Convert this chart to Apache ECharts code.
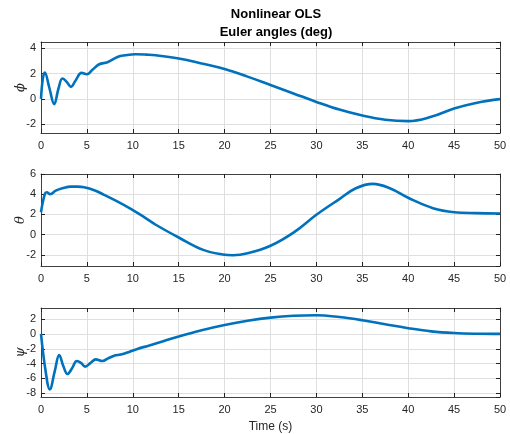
<!DOCTYPE html>
<html>
<head>
<meta charset="utf-8">
<script src="https://cdn.jsdelivr.net/npm/echarts@6/dist/echarts.min.js"></script>
<style>
  html, body { margin: 0; padding: 0; background: #fff; }
  #main { width: 510px; height: 434px; }
</style>
</head>
<body>
<div id="main"></div>
<script>
// values
var phiTime = [0, 0.2, 0.41, 0.9, 1.44, 1.9, 2.34, 2.8, 3.25, 3.8, 4.41, 5.0, 5.6, 6.34, 7.24, 8.33, 9.2, 10.3, 11.5, 12.5, 15, 17.5, 20, 22.5, 25, 27.5, 30, 32.5, 35, 37.5, 40, 42.5, 45, 47.5, 50];
var phi = [0, 1.6, 2.09, 0.9, -0.42, 0.8, 1.61, 1.35, 0.95, 1.5, 2.06, 1.95, 2.3, 2.74, 2.9, 3.32, 3.45, 3.53, 3.5, 3.45, 3.19, 2.8, 2.36, 1.76, 1.1, 0.43, -0.24, -0.85, -1.32, -1.65, -1.76, -1.42, -0.76, -0.3, -0.02];

var thetaTime = [0, 0.41, 0.63, 1.0, 1.61, 2.34, 3.25, 4.0, 4.7, 5.8, 6.88, 8.3, 9.78, 11.2, 12.5, 15.1, 17.6, 19.8, 20.9, 22.5, 25, 27.5, 30, 32.5, 34.3, 36.15, 38.0, 40.1, 42.7, 45.0, 47.4, 50];
var theta = [2.22, 4.0, 4.19, 4.0, 4.36, 4.59, 4.75, 4.75, 4.69, 4.4, 3.94, 3.3, 2.56, 1.75, 0.98, -0.33, -1.48, -1.97, -2.04, -1.85, -1.1, 0.2, 1.97, 3.52, 4.59, 5.02, 4.59, 3.6, 2.62, 2.22, 2.13, 2.1];

var psiTime = [0, 0.5, 0.96, 1.5, 1.98, 2.45, 2.89, 3.4, 3.9, 4.35, 4.81, 5.4, 5.97, 6.7, 7.3, 7.97, 8.7, 9.6, 10.5, 11.8, 13.4, 15.1, 17.5, 20, 22.5, 25, 27.5, 30, 32.5, 35, 37.5, 40, 42.5, 45, 47.5, 50];
var psi = [0, -5.0, -7.47, -5.0, -2.85, -4.4, -5.4, -4.6, -3.65, -3.9, -4.4, -3.9, -3.43, -3.65, -3.3, -2.94, -2.77, -2.42, -2.02, -1.55, -0.95, -0.3, 0.5, 1.2, 1.77, 2.2, 2.45, 2.52, 2.28, 1.85, 1.3, 0.78, 0.35, 0.12, 0.03, 0.01];

var xTicks = [0, 50, 5];
var yNames = ['ϕ', 'θ', 'ψ'];
var yRanges = [[-2.7, 4.5], [-3.1, 6], [-8.5, 3.5]];
var ySplits = [4, 4, 5];

function pairs(t, v) {
  var out = [];
  for (var i = 0; i < t.length; i++) out.push([t[i], v[i]]);
  return out;
}

var seriesData = [pairs(phiTime, phi), pairs(thetaTime, theta), pairs(psiTime, psi)];
var gridTops = [42, 174, 308];
var gridHeights = [91, 92, 91];

var fontFam = 'Liberation Sans, Arial, sans-serif';
var lineCol = '#404040';
var textCol = '#262626';

var grids = [], xAxes = [], yAxes = [], series = [];
for (var i = 0; i < 3; i++) {
  grids.push({ left: 41, right: 10, top: gridTops[i], height: gridHeights[i] });
  // bottom x axis
  xAxes.push({
    type: 'value', gridIndex: i, position: 'bottom',
    min: xTicks[0], max: xTicks[1], interval: xTicks[2],
    name: i == 2 ? 'Time (s)' : '', nameLocation: 'middle', nameGap: 24,
    nameTextStyle: { color: textCol, fontSize: 12, fontFamily: fontFam },
    axisLine: { onZero: false, lineStyle: { color: lineCol, width: 1 } },
    axisTick: { inside: true, length: 4, lineStyle: { color: '#222' } },
    axisLabel: { color: textCol, fontSize: 11, fontFamily: fontFam, margin: 7 },
    splitLine: { show: true, lineStyle: { color: '#dfdfdf' } }
  });
  // top mirror
  xAxes.push({
    type: 'value', gridIndex: i, position: 'top',
    min: xTicks[0], max: xTicks[1], interval: xTicks[2],
    axisLine: { onZero: false, lineStyle: { color: lineCol, width: 1 } },
    axisTick: { inside: true, length: 4, lineStyle: { color: '#222' } },
    axisLabel: { show: false },
    splitLine: { show: false }
  });
  yAxes.push({
    type: 'value', gridIndex: i, position: 'left',
    min: yRanges[i][0], max: yRanges[i][1], splitNumber: ySplits[i],
    name: yNames[i], nameLocation: 'middle', nameRotate: 90, nameGap: 14,
    nameMoveOverlap: false,
    nameTextStyle: { color: textCol, fontSize: 13, fontStyle: 'italic', fontFamily: 'DejaVu Serif, serif' },
    axisLine: { onZero: false, lineStyle: { color: lineCol, width: 1 } },
    axisTick: { inside: true, length: 4, lineStyle: { color: '#222' } },
    axisLabel: { color: textCol, fontSize: 11, fontFamily: fontFam, margin: 5,
                 showMinLabel: false, showMaxLabel: i == 1 },
    splitLine: { show: true, lineStyle: { color: '#dfdfdf' } }
  });
  yAxes.push({
    type: 'value', gridIndex: i, position: 'right',
    min: yRanges[i][0], max: yRanges[i][1], splitNumber: ySplits[i],
    axisLine: { onZero: false, lineStyle: { color: lineCol, width: 1 } },
    axisTick: { inside: true, length: 4, lineStyle: { color: '#222' } },
    axisLabel: { show: false },
    splitLine: { show: false }
  });
  series.push({
    type: 'line', xAxisIndex: 2 * i, yAxisIndex: 2 * i,
    data: seriesData[i], smooth: 0.4, showSymbol: false,
    lineStyle: { color: '#0072BD', width: 2.6 }
  });
}

var chart = echarts.init(document.getElementById('main'));
chart.setOption({
  animation: false,
  backgroundColor: '#ffffff',
  title: {
    text: 'Nonlinear OLS\nEuler angles (deg)',
    left: 271, top: 0, textAlign: 'center',
    textStyle: { color: '#000', fontSize: 13, fontWeight: 'bold', fontFamily: fontFam, lineHeight: 18 }
  },
  grid: grids,
  xAxis: xAxes,
  yAxis: yAxes,
  series: series
});
</script>
</body>
</html>
